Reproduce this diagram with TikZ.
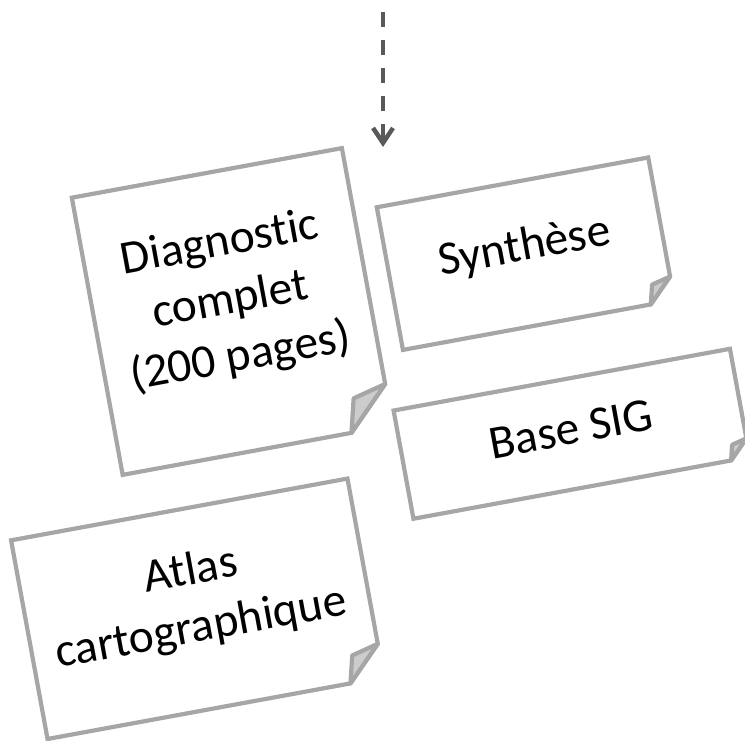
\documentclass[tikz,border=0pt]{standalone}
\usepackage{fontspec}
\setmainfont{Carlito}[Ligatures=NoCommon]
\usetikzlibrary{arrows.meta}

\definecolor{cardgray}{HTML}{A6A6A6}
\definecolor{flapgray}{HTML}{CCCCCC}
\definecolor{arrowgray}{HTML}{595959}

% name, centre x, centre y, half width, half height, fold, text
\newcommand{\notecard}[7]{%
  \begin{scope}[shift={(#2,#3)},rotate=10.4]
    \draw[card] (-#4,#5)--(#4,#5)--(#4,-#5+#6)--(#4-#6,-#5)--(-#4,-#5)--cycle;
    \draw[flap] (#4-#6,-#5)--(#4-0.8*#6,-#5+0.8*#6)--(#4,-#5+#6)--cycle;
    \node[cardtext] (#1) at (0,#6/4) {#7};
  \end{scope}}

\begin{document}
\begin{tikzpicture}[x=1pt,y=1pt,
    card/.style={line width=4.2pt,cardgray,fill=white,line join=miter},
    flap/.style={line width=4.2pt,cardgray,fill=flapgray,line join=round},
    cardtext/.style={align=center,inner sep=0pt,transform shape,
      font=\fontsize{47.5}{58}\selectfont},
    flow/.style={line width=4.5pt,arrowgray,dash pattern=on 15pt off 13pt,
      -{Straight Barb[length=15pt,width=20pt]}}]
  \useasboundingbox (0,0) rectangle (745,741);
  \coordinate (src) at (383,729);
  \coordinate (dst) at (383,594);
  \draw[flow] (src)--(dst);
  \notecard{diag}{232.3}{429.5}{137.3}{140.9}{42}{Diagnostic\\complet\\(200 pages)}
  \notecard{synth}{525.6}{487.3}{138}{72.5}{24}{Synthèse}
  \notecard{sig}{571.7}{307.2}{171}{55}{19}{Base SIG}
  \notecard{atlas}{197.5}{132.2}{171}{101}{34}{Atlas\\cartographique}
\end{tikzpicture}
\end{document}
